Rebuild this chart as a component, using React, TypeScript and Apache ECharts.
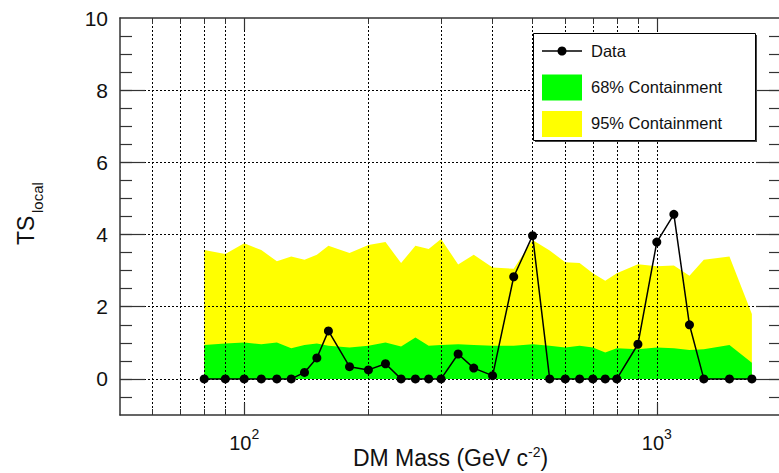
import React, { useEffect, useRef } from 'react';
import * as echarts from 'echarts';

// DM mass points (GeV c^-2)
const massGeV = [80, 90, 100, 110, 120, 130, 140, 150, 160, 180, 200, 220, 240, 260, 280, 300, 330, 360, 400, 450, 500, 550, 600, 650, 700, 750, 800, 900, 1000, 1100, 1200, 1300, 1500, 1700];
// observed local TS
const tsLocal = [0, 0, 0, 0, 0, 0, 0.18, 0.58, 1.33, 0.34, 0.25, 0.42, 0, 0, 0, 0, 0.69, 0.3, 0.09, 2.83, 3.97, 0, 0, 0, 0, 0, 0, 0.96, 3.79, 4.56, 1.5, 0, 0, 0];
// containment band upper edges
const upper95 = [3.57, 3.46, 3.76, 3.57, 3.26, 3.39, 3.3, 3.44, 3.69, 3.49, 3.71, 3.79, 3.21, 3.69, 3.6, 3.88, 3.17, 3.44, 3.09, 3.05, 3.85, 3.56, 3.23, 3.21, 2.93, 2.72, 2.93, 3.18, 3.12, 3.14, 2.86, 3.3, 3.39, 1.8];
const upper68 = [0.94, 0.98, 1.01, 0.96, 1.01, 0.85, 0.94, 0.98, 0.92, 0.87, 0.92, 1.01, 0.9, 1.15, 0.92, 0.94, 0.96, 0.94, 0.92, 0.92, 0.96, 0.92, 0.87, 0.92, 0.87, 0.73, 0.85, 0.82, 0.87, 0.85, 0.8, 0.82, 0.94, 0.45];

// axis ticks
const xGridValues = [60, 70, 80, 90, 100, 200, 300, 400, 500, 600, 700, 800, 900, 1000];
const xMajorValues = [100, 1000];
const yMinorTickValues = [-0.5, 0, 0.5, 1, 1.5, 2, 2.5, 3, 3.5, 4, 4.5, 5, 5.5, 6, 6.5, 7, 7.5, 8, 8.5, 9, 9.5];
const yMajorValues = [0, 2, 4, 6, 8];
const yLabelValues = [0, 2, 4, 6, 8, 10];
const legendLabels = ['Data', '68% Containment', '95% Containment'];

const FONT = 'Liberation Sans, Arial, Helvetica, sans-serif';
const FRAME = '#333';
const TXT = '#111';

export default function App() {
  const ref = useRef<HTMLDivElement>(null);
  useEffect(() => {
    if (!ref.current) return;
    const chart = echarts.init(ref.current, undefined, { renderer: 'svg' });
    const pairs = (ys: number[]) => massGeV.map((m, i) => [m, ys[i]]);
    const baseX = { type: 'log', logBase: 10, min: 50, max: 2000 } as any;
    const baseY = { type: 'value', min: -1, max: 10 } as any;
    const frameLine = { show: true, onZero: false, lineStyle: { color: FRAME, width: 1.5 } };
    const noLine = { show: false, onZero: false };
    const gridBox = { left: 120, top: 18, right: -2, bottom: 58, containLabel: false, outerBoundsMode: 'none' };
    const option: any = {
      animation: false,
      backgroundColor: '#fff',
      textStyle: { fontFamily: FONT },
      grid: [gridBox, { ...gridBox }],
      xAxis: [
        {
          ...baseX,
          gridIndex: 0,
          position: 'bottom',
          z: 3,
          axisLine: frameLine,
          axisTick: { show: true, inside: true, length: 6, customValues: xGridValues, lineStyle: { color: FRAME, width: 1 } },
          minorTick: { show: false },
          splitLine: { show: true, lineStyle: { color: '#000', width: 1, type: [2, 2] } },
          axisLabel: {
            show: true,
            customValues: xMajorValues,
            margin: 12,
            formatter: (v: number) => `{b|10}{s|${Math.round(Math.log10(v))}}`,
            rich: {
              b: { fontSize: 20, fontFamily: FONT, color: TXT, lineHeight: 32 },
              s: { fontSize: 14, fontFamily: FONT, color: TXT, lineHeight: 14, verticalAlign: 'top' },
            },
          },
          name: '{a|DM Mass (GeV c}{s|-2}{a|)}',
          nameLocation: 'middle',
          nameGap: 30,
          nameMoveOverlap: false,
          nameTextStyle: {
            rich: {
              a: { fontSize: 23, fontFamily: FONT, color: TXT, lineHeight: 26 },
              s: { fontSize: 14, fontFamily: FONT, color: TXT, lineHeight: 19, verticalAlign: 'top' },
            },
          },
        },
        {
          ...baseX,
          gridIndex: 0,
          position: 'top',
          z: 3,
          axisLine: frameLine,
          axisTick: { show: true, inside: true, length: 6, customValues: xGridValues, lineStyle: { color: FRAME, width: 1 } },
          splitLine: { show: false },
          axisLabel: { show: false },
        },
        {
          ...baseX,
          gridIndex: 1,
          position: 'bottom',
          z: 3,
          axisLine: noLine,
          axisTick: { show: true, inside: true, length: 12, customValues: xMajorValues, lineStyle: { color: FRAME, width: 1.2 } },
          splitLine: { show: false },
          axisLabel: { show: false },
        },
        {
          ...baseX,
          gridIndex: 1,
          position: 'top',
          z: 3,
          axisLine: noLine,
          axisTick: { show: true, inside: true, length: 12, customValues: xMajorValues, lineStyle: { color: FRAME, width: 1.2 } },
          splitLine: { show: false },
          axisLabel: { show: false },
        },
      ],
      yAxis: [
        {
          ...baseY,
          gridIndex: 0,
          position: 'left',
          z: 3,
          axisLine: frameLine,
          axisTick: { show: true, inside: true, length: 12, customValues: yMinorTickValues, lineStyle: { color: FRAME, width: 1.2 } },
          splitLine: { show: false },
          axisLabel: { show: true, customValues: yLabelValues, margin: 12, fontSize: 21, fontFamily: FONT, color: TXT },
        },
        {
          ...baseY,
          gridIndex: 0,
          position: 'right',
          z: 3,
          axisLine: frameLine,
          axisTick: { show: true, inside: true, length: 12, customValues: yMinorTickValues, lineStyle: { color: FRAME, width: 1.2 } },
          splitLine: { show: false },
          axisLabel: { show: false },
        },
        {
          ...baseY,
          gridIndex: 1,
          position: 'left',
          z: 3,
          axisLine: noLine,
          axisTick: { show: true, inside: true, length: 25, customValues: yMajorValues, lineStyle: { color: FRAME, width: 1.2 } },
          splitLine: { show: true, lineStyle: { color: '#000', width: 1, type: [2, 2] } },
          axisLabel: { show: false },
        },
        {
          ...baseY,
          gridIndex: 1,
          position: 'right',
          z: 3,
          axisLine: noLine,
          axisTick: { show: true, inside: true, length: 25, customValues: yMajorValues, lineStyle: { color: FRAME, width: 1.2 } },
          splitLine: { show: false },
          axisLabel: { show: false },
        },
      ],
      series: [
        {
          name: '95% Containment',
          type: 'line',
          xAxisIndex: 0,
          yAxisIndex: 0,
          z: 1,
          data: pairs(upper95),
          symbol: 'none',
          showSymbol: false,
          lineStyle: { width: 0, color: '#ffff00' },
          areaStyle: { color: '#ffff00', opacity: 1 },
          silent: true,
        },
        {
          name: '68% Containment',
          type: 'line',
          xAxisIndex: 0,
          yAxisIndex: 0,
          z: 2,
          data: pairs(upper68),
          symbol: 'none',
          showSymbol: false,
          lineStyle: { width: 0, color: '#00ff00' },
          areaStyle: { color: '#00ff00', opacity: 1 },
          silent: true,
        },
        {
          name: 'Data',
          type: 'line',
          xAxisIndex: 0,
          yAxisIndex: 0,
          z: 10,
          data: pairs(tsLocal),
          symbol: 'circle',
          symbolSize: 9,
          itemStyle: { color: '#000' },
          lineStyle: { color: '#000', width: 1.5 },
        },
      ],
      graphic: [
        {
          type: 'group',
          x: 25.5,
          y: 245,
          rotation: Math.PI / 2,
          children: [
            { type: 'text', x: 0, y: 0, style: { text: 'TS', fontSize: 23, fontFamily: FONT, fill: TXT, align: 'left', verticalAlign: 'middle' } },
            { type: 'text', x: 32, y: 12, style: { text: 'local', fontSize: 15, fontFamily: FONT, fill: TXT, align: 'left', verticalAlign: 'middle' } },
          ],
        },
        {
          type: 'group',
          z: 100,
          children: [
            { type: 'rect', z: 100, shape: { x: 535, y: 35, width: 222, height: 107 }, style: { fill: '#444' } },
            { type: 'rect', z: 101, shape: { x: 533.5, y: 33.5, width: 222, height: 107 }, style: { fill: '#fff', stroke: '#000', lineWidth: 1 } },
            { type: 'line', z: 102, shape: { x1: 542, y1: 51, x2: 582, y2: 51 }, style: { stroke: '#000', lineWidth: 1.5 } },
            { type: 'circle', z: 102, shape: { cx: 562, cy: 51, r: 4.5 }, style: { fill: '#000' } },
            { type: 'rect', z: 102, shape: { x: 542, y: 74.5, width: 40, height: 26 }, style: { fill: '#00ff00' } },
            { type: 'rect', z: 102, shape: { x: 542, y: 111, width: 40, height: 26 }, style: { fill: '#ffff00' } },
            { type: 'text', z: 102, x: 591, y: 51, style: { text: legendLabels[0], fontSize: 16.5, fontFamily: FONT, fill: TXT, verticalAlign: 'middle' } },
            { type: 'text', z: 102, x: 591, y: 87, style: { text: legendLabels[1], fontSize: 16.5, fontFamily: FONT, fill: TXT, verticalAlign: 'middle' } },
            { type: 'text', z: 102, x: 591, y: 123, style: { text: legendLabels[2], fontSize: 16.5, fontFamily: FONT, fill: TXT, verticalAlign: 'middle' } },
          ],
        },
      ],
    };
    chart.setOption(option);
    return () => chart.dispose();
  }, []);
  return <div ref={ref} style={{ position: 'fixed', left: 0, top: 0, width: 779, height: 473 }} />;
}
